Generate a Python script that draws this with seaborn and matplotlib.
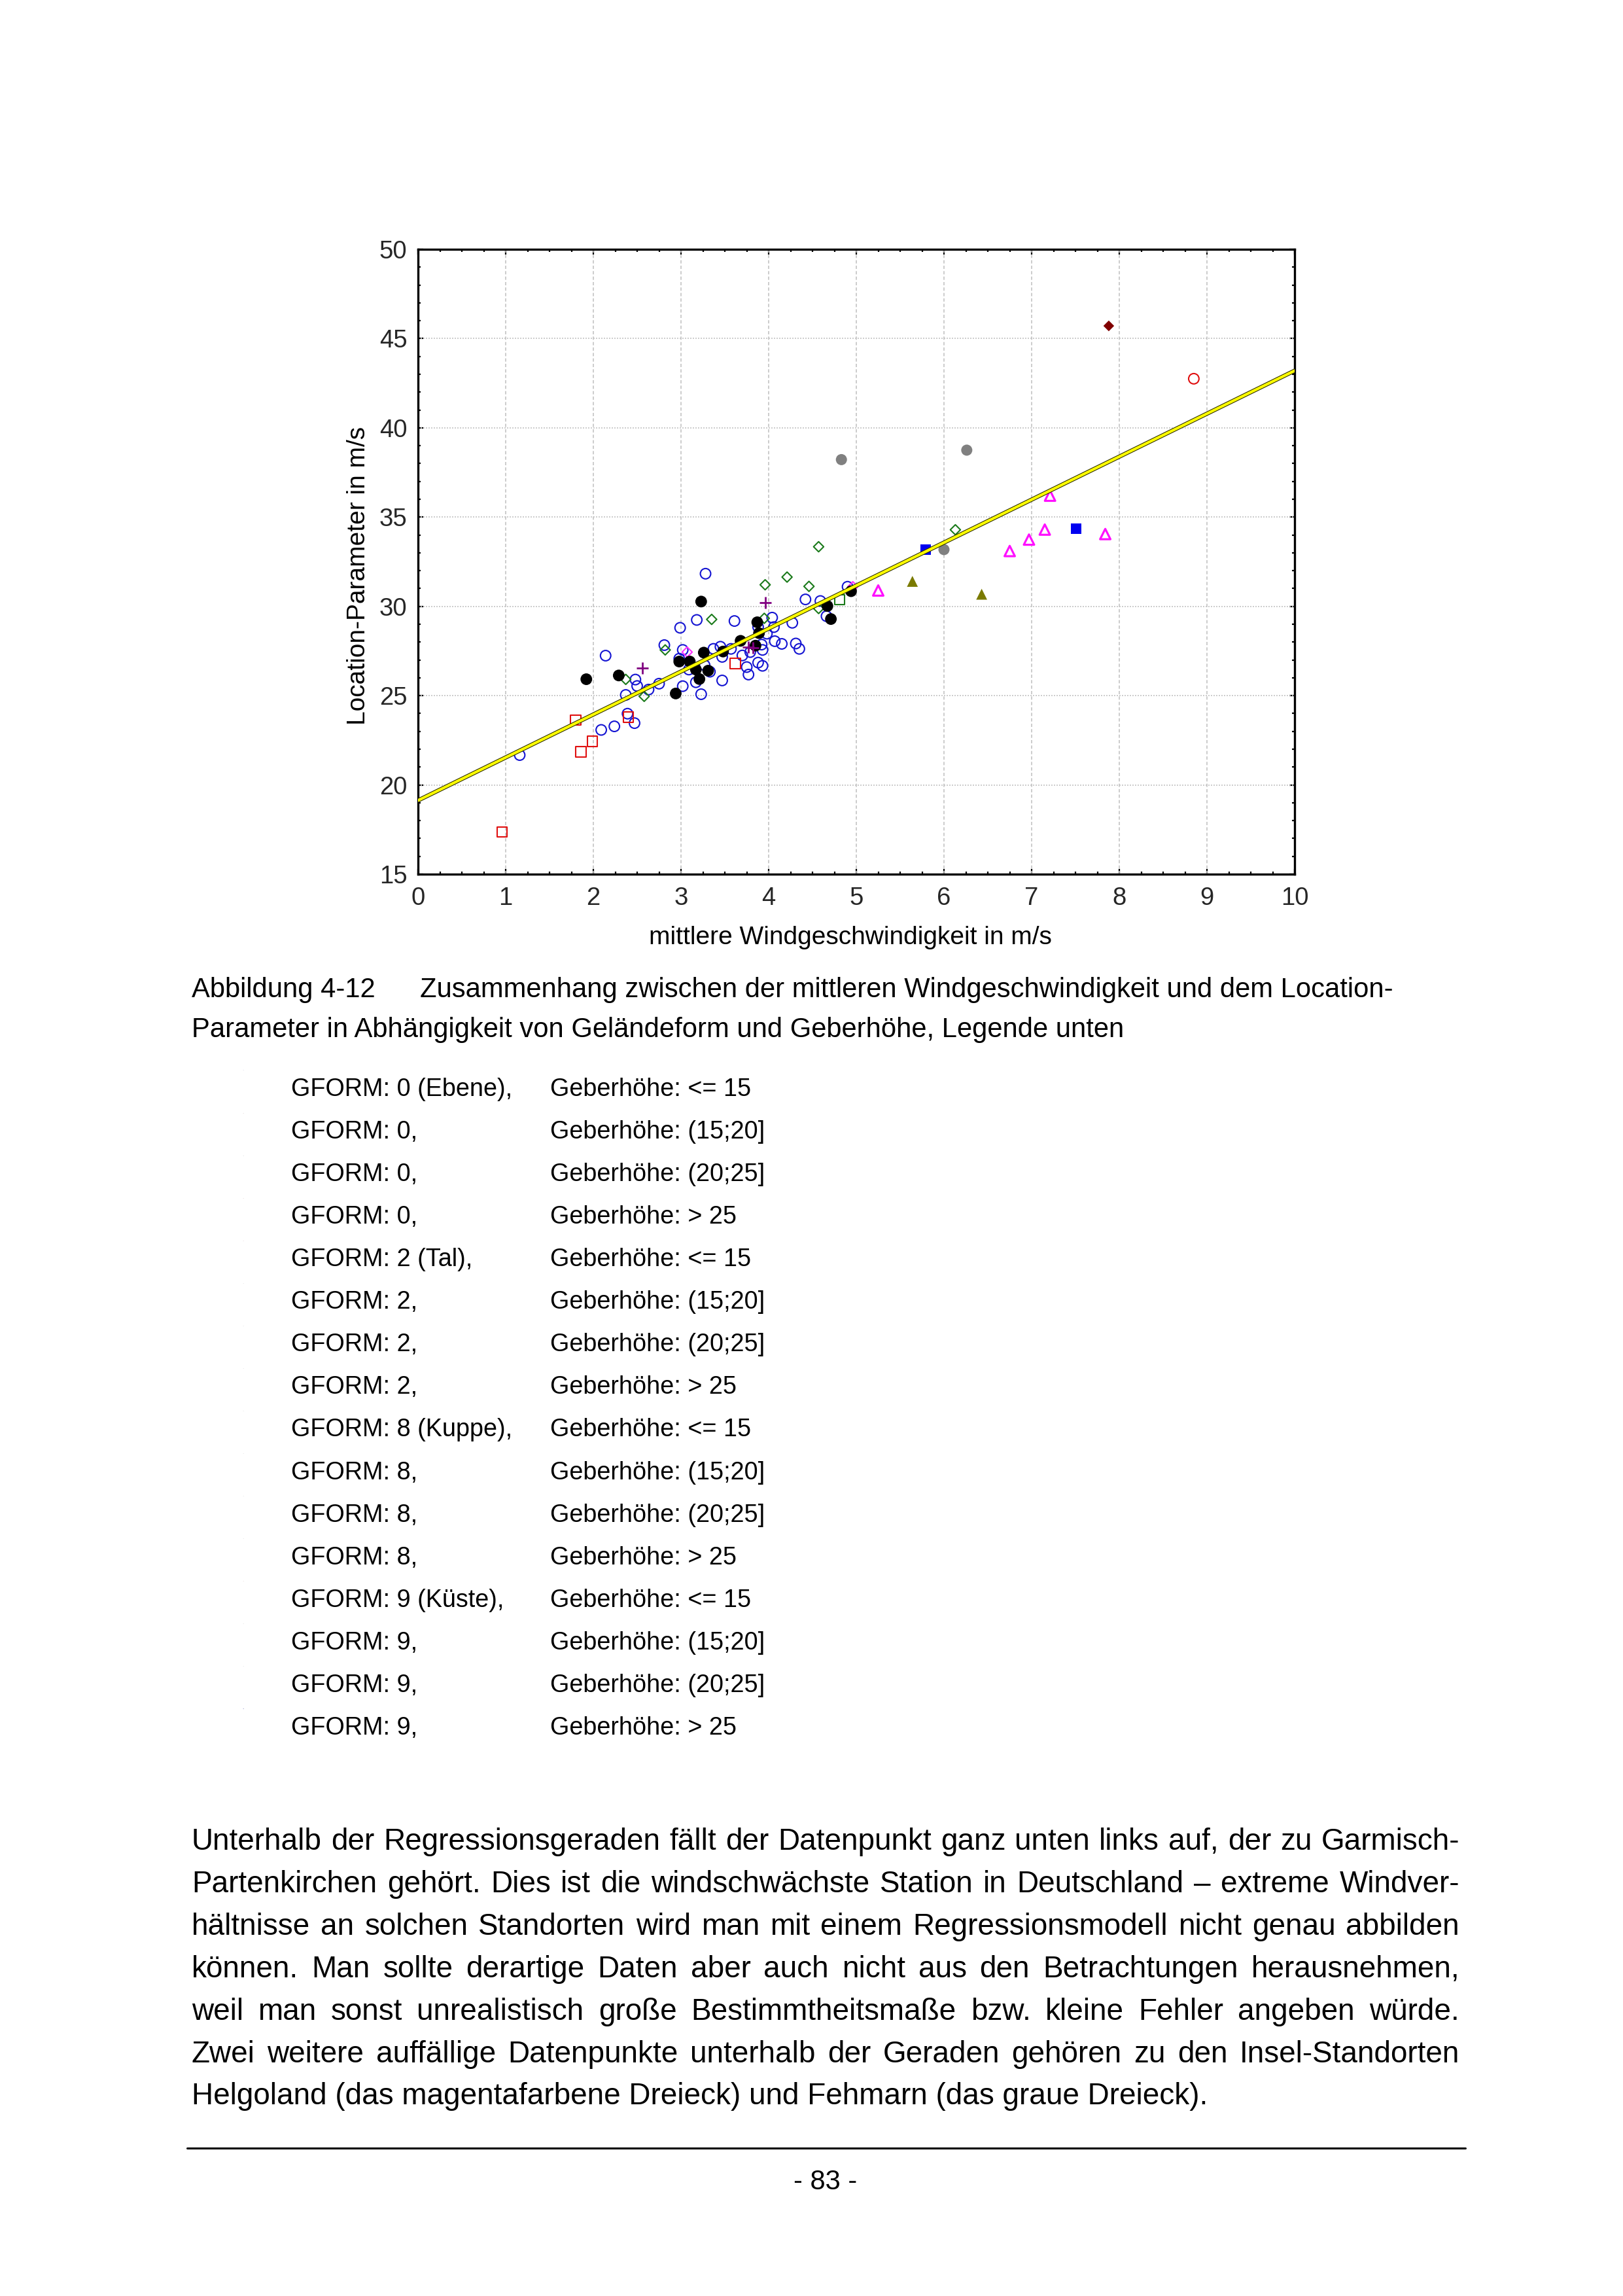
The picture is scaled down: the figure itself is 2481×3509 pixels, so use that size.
import matplotlib
matplotlib.use("Agg")
import matplotlib.pyplot as plt
import matplotlib.patheffects as pe
from matplotlib.ticker import MultipleLocator
import seaborn as sns

# ---------------- data ----------------
blue_circ_x = [3.28,1.16,2.14,2.09,2.24,2.47,2.39,2.37,2.48,2.50,2.63,2.75,2.81,2.99,3.18,3.61,3.02,2.98,3.09,3.02,
               3.17,3.23,3.47,3.27,3.33,3.37,3.45,3.47,3.57,3.70,3.79,3.75,3.77,3.88,3.93,3.92,3.93,3.88,3.98,4.04,
               4.06,4.07,4.15,4.27,4.31,4.35,4.42,4.59,4.66,4.90]
blue_circ_y = [31.83,21.67,27.24,23.08,23.28,23.46,23.99,25.04,25.90,25.54,25.34,25.67,27.83,28.80,29.24,29.18,27.56,27.07,26.46,25.53,
               25.75,25.08,25.85,26.70,26.34,27.62,27.74,27.17,27.62,27.25,27.44,26.60,26.18,26.85,26.67,27.86,27.56,28.84,28.47,29.37,
               28.84,28.05,27.90,29.08,27.92,27.62,30.39,30.30,29.45,31.10]
black_dot_x = [1.92,2.29,3.23,2.94,2.98,3.10,3.17,3.21,3.31,3.26,3.48,3.68,3.85,3.87,3.89,4.67,4.71,4.94]
black_dot_y = [25.92,26.13,30.27,25.12,26.91,26.91,26.46,25.93,26.40,27.41,27.47,28.07,27.80,29.11,28.50,30.02,29.29,30.85]
green_dia_x = [2.37,2.58,2.82,3.35,3.96,3.95,4.21,4.46,4.57,4.57,6.13]
green_dia_y = [25.91,24.96,27.56,29.27,31.21,29.33,31.64,31.12,29.88,33.34,34.29]
green_sq_x = [4.81]
green_sq_y = [30.37]
red_sq_x = [0.96,1.80,1.86,1.99,2.40,3.62]
red_sq_y = [17.36,23.63,21.86,22.44,23.79,26.80]
purple_plus_x = [2.56,3.96,3.77,3.82]
purple_plus_y = [26.56,30.20,27.70,27.68]
mag_dia_x = [3.07,4.96]
mag_dia_y = [27.44,31.10]
gray_dot_x = [4.83,6.26,6.00]
gray_dot_y = [38.22,38.75,33.18]
darkred_dia_x = [7.88]
darkred_dia_y = [45.71]
blue_sq_x = [5.79,7.51]
blue_sq_y = [33.18,34.35]
mag_tri_x = [5.25,6.75,6.97,7.15,7.21,7.84]
mag_tri_y = [30.89,33.10,33.74,34.30,36.20,34.05]
olive_tri_x = [5.64,6.43]
olive_tri_y = [31.40,30.68]
red_circ_x = [8.85]
red_circ_y = [42.75]

reg_x = [0.0, 10.0]
reg_y = [19.13, 43.2]

x_ticks = [0,1,2,3,4,5,6,7,8,9,10]
y_ticks = [15,20,25,30,35,40,45,50]

x_label = "mittlere Windgeschwindigkeit in m/s"
y_label = "Location-Parameter in m/s"

caption_head = "Abbildung 4-12"
caption_l1 = "Zusammenhang zwischen der mittleren Windgeschwindigkeit und dem Location-"
caption_l2 = "Parameter in Abhängigkeit von Geländeform und Geberhöhe, Legende unten"

legend_gform = ["GFORM: 0 (Ebene),", "GFORM: 0,", "GFORM: 0,", "GFORM: 0,",
                "GFORM: 2 (Tal),", "GFORM: 2,", "GFORM: 2,", "GFORM: 2,",
                "GFORM: 8 (Kuppe),", "GFORM: 8,", "GFORM: 8,", "GFORM: 8,",
                "GFORM: 9 (Küste),", "GFORM: 9,", "GFORM: 9,", "GFORM: 9,"]
legend_height = ["Geberhöhe: <= 15", "Geberhöhe: (15;20]", "Geberhöhe: (20;25]", "Geberhöhe: > 25"] * 4
legend_dot_colors = ["#c8c8e0", "#d8c8c8", "#d0d0d0", "#e0c8c8", "#e0c8d0", "#d8d8d8", "#d8d8d8", "#d8d8d8",
                     "#d8d8d8", "#d8d8d8", "#d8d8d8", "#d8d8d8", "#e0d0d0", "#d8d8d8", "#d8d8d8", "#5050a0"]

body_lines = [
    "Unterhalb der Regressionsgeraden fällt der Datenpunkt ganz unten links auf, der zu Garmisch-",
    "Partenkirchen gehört. Dies ist die windschwächste Station in Deutschland – extreme Windver-",
    "hältnisse an solchen Standorten wird man mit einem Regressionsmodell nicht genau abbilden",
    "können. Man sollte derartige Daten aber auch nicht aus den Betrachtungen herausnehmen,",
    "weil man sonst unrealistisch große Bestimmtheitsmaße bzw. kleine Fehler angeben würde.",
    "Zwei weitere auffällige Datenpunkte unterhalb der Geraden gehören zu den Insel-Standorten",
    "Helgoland (das magentafarbene Dreieck) und Fehmarn (das graue Dreieck).",
]
page_number = "- 83 -"

# ---------------- style ----------------
sns.set_theme(style="white")
FONT = ["Liberation Sans", "DejaVu Sans"]
plt.rcParams["font.family"] = FONT
plt.rcParams["text.color"] = "black"

W, H = 2481, 3509
fig = plt.figure(figsize=(W / 100, H / 100), dpi=100)
fig.patch.set_facecolor("white")

def fx(px):
    return px / W

def fy(py):
    return 1 - py / H

ax_left, ax_right, ax_top, ax_bottom = 639, 1979, 381, 1336
ax = fig.add_axes([fx(ax_left), fy(ax_bottom), (ax_right - ax_left) / W, (ax_bottom - ax_top) / H])
ax.set_facecolor("white")

open_kw = dict(facecolor="none", linewidth=1.5, ax=ax, zorder=3, legend=False)
filled_kw = dict(edgecolor="none", linewidth=0, ax=ax, zorder=3, legend=False)

sns.scatterplot(x=blue_circ_x, y=blue_circ_y, marker="o", s=130, edgecolor="#1414d2", **open_kw)
sns.scatterplot(x=red_sq_x, y=red_sq_y, marker="s", s=125, edgecolor="#e01010", **open_kw)
sns.scatterplot(x=green_dia_x, y=green_dia_y, marker="D", s=62, edgecolor="#1a7a1a", **open_kw)
sns.scatterplot(x=green_sq_x, y=green_sq_y, marker="s", s=125, edgecolor="#1a7a1a", **open_kw)
sns.scatterplot(x=mag_dia_x, y=mag_dia_y, marker="D", s=62, edgecolor="#ff30ff", **open_kw)
sns.scatterplot(x=mag_tri_x, y=mag_tri_y, marker="^", s=130, edgecolor="#ff10ff",
                facecolor="none", linewidth=2.3, ax=ax, zorder=3, legend=False)
sns.scatterplot(x=red_circ_x, y=red_circ_y, marker="o", s=130, edgecolor="#e01010", **open_kw)
sns.scatterplot(x=black_dot_x, y=black_dot_y, marker="o", s=165, color="black", **filled_kw)
sns.scatterplot(x=gray_dot_x, y=gray_dot_y, marker="o", s=150, color="#808080", **filled_kw)
sns.scatterplot(x=darkred_dia_x, y=darkred_dia_y, marker="D", s=70, color="#800000", **filled_kw)
sns.scatterplot(x=blue_sq_x, y=blue_sq_y, marker="s", s=135, color="#0000f0", **filled_kw)
sns.scatterplot(x=olive_tri_x, y=olive_tri_y, marker="^", s=145, color="#7a7a00", **filled_kw)
sns.scatterplot(x=purple_plus_x, y=purple_plus_y, marker="+", s=160, color="#800080",
                linewidth=2.0, ax=ax, zorder=3, legend=False)

sns.lineplot(x=reg_x, y=reg_y, color="#ffff00", linewidth=3.0, ax=ax, zorder=4, legend=False,
             path_effects=[pe.Stroke(linewidth=4.6, foreground="#303000"), pe.Normal()])

ax.set_xlim(0, 10)
ax.set_ylim(15, 50)
ax.set_xticks(x_ticks)
ax.set_yticks(y_ticks)
ax.set_xticklabels([str(t) for t in x_ticks])
ax.set_yticklabels([str(t) for t in y_ticks])
ax.xaxis.set_minor_locator(MultipleLocator(0.25))
ax.yaxis.set_minor_locator(MultipleLocator(1))
ax.tick_params(which="both", direction="in", top=True, right=True, bottom=True, left=True,
               color="black", width=1.6)
ax.tick_params(which="major", length=5.5)
ax.tick_params(which="minor", length=3.0)
ax.tick_params(axis="x", which="major", labelsize=27.5, pad=14)
ax.tick_params(axis="y", which="major", labelsize=27.5, pad=12)
for lab in ax.get_xticklabels() + ax.get_yticklabels():
    lab.set_family(FONT)
ax.grid(False)
for xv in x_ticks[1:-1]:
    ax.axvline(xv, color="#c4c4c4", linewidth=1.2, linestyle=(0, (3, 2)), zorder=1)
for yv in y_ticks[1:-1]:
    ax.axhline(yv, color="#c4c4c4", linewidth=1.2, linestyle=(0, (1.2, 1.2)), zorder=1)
for sp in ax.spines.values():
    sp.set_visible(True)
    sp.set_color("black")
    sp.set_linewidth(2.4)

ax.set_xlabel("")
ax.set_ylabel("")
fig.text(fx(1300), fy(1433), x_label, fontsize=28, ha="center", va="center", family=FONT)
fig.text(fx(548), fy(880), y_label, fontsize=28, ha="center", va="center", rotation=90, family=FONT)

# ---------------- caption ----------------
cap_fs = 30.1
fig.text(fx(293), fy(1513), caption_head, fontsize=cap_fs, ha="left", va="center", family=FONT)
fig.text(fx(642), fy(1513), caption_l1, fontsize=cap_fs, ha="left", va="center", family=FONT)
fig.text(fx(293), fy(1574), caption_l2, fontsize=cap_fs, ha="left", va="center", family=FONT)

# ---------------- legend block ----------------
leg_fs = 27.2
for i, (a, b) in enumerate(zip(legend_gform, legend_height)):
    yy = 1665 + i * 65.06
    fig.text(fx(445), fy(yy), a, fontsize=leg_fs, ha="left", va="center", family=FONT)
    fig.text(fx(841), fy(yy), b, fontsize=leg_fs, ha="left", va="center", family=FONT)
    fig.text(fx(371), fy(yy - 30), ".", fontsize=6, color=legend_dot_colors[i], ha="center", va="center")

# ---------------- body text (justified) ----------------
body_fs = 33
renderer = fig.canvas.get_renderer()
left_px, right_px = 293, 2231
for i, line in enumerate(body_lines):
    yy = 2815 + i * 64.9
    if i == len(body_lines) - 1:
        fig.text(fx(left_px), fy(yy), line, fontsize=body_fs, ha="left", va="center", family=FONT)
        continue
    words = line.split(" ")
    texts = [fig.text(0, fy(yy), w, fontsize=body_fs, ha="left", va="center", family=FONT) for w in words]
    widths = [t.get_window_extent(renderer).width for t in texts]
    gap = (right_px - left_px - sum(widths)) / (len(words) - 1)
    xpos = left_px
    for t, wdt in zip(texts, widths):
        t.set_x(fx(xpos))
        xpos += wdt + gap

# ---------------- footer ----------------
fig.add_artist(plt.Line2D([fx(286), fx(2240)], [fy(3283), fy(3283)], color="black", linewidth=2.2))
fig.text(fx(1262), fy(3335), page_number, fontsize=30, ha="center", va="center", family=FONT)

fig.savefig("out.png", dpi=100, facecolor="white")
